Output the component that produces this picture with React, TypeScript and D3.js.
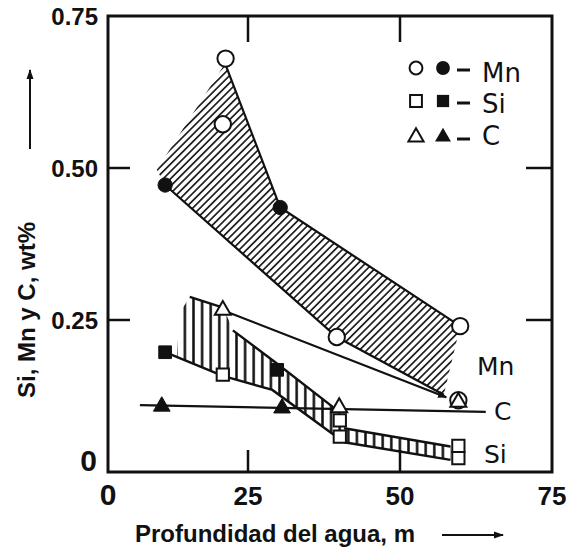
import React from 'react';
import * as d3 from 'd3';

// ---- data ----
const xTicks = [0, 25, 50, 75];
const xTickLabels = ['0', '25', '50', '75'];
const yTicks = [0, 0.25, 0.5, 0.75];
const yTickLabels = ['0', '0.25', '0.50', '0.75'];

// depth (m), wt%
const mnOpen = [[21, 0.68], [20.5, 0.572], [39.6, 0.222], [59.9, 0.24], [59.6, 0.118]];
const mnFilled = [[10.2, 0.472], [30.3, 0.435]];
const siOpen = [[20.5, 0.16], [40.1, 0.085], [40.1, 0.058], [59.6, 0.043], [59.6, 0.023]];
const siFilled = [[10.2, 0.197], [29.8, 0.168]];
const cOpen = [[20.5, 0.266], [40, 0.106], [59.6, 0.115]];
const cFilled = [[9.6, 0.108], [30.6, 0.105]];

const mnBand = [[8.7, 0.497], [20.9, 0.672], [30.3, 0.435], [59.9, 0.24], [57.2, 0.127], [39.6, 0.222], [10.2, 0.472]];
const mnEdgeLow = [[10.2, 0.472], [39.6, 0.222], [57.2, 0.127]];
const mnEdgeHigh = [[20.9, 0.672], [30.3, 0.435], [59.9, 0.24]];

const siBand = [[12.3, 0.19], [12.8, 0.262], [14.6, 0.288], [20, 0.272], [21, 0.262], [22.3, 0.233], [29.8, 0.178], [40.1, 0.098], [40.8, 0.072], [58.3, 0.042], [58.3, 0.02], [40.8, 0.049], [29, 0.135], [20.5, 0.158]];
const siEdgeTop = [[14.6, 0.288], [20, 0.272]];
const siEdgeDiag = [[22.3, 0.233], [29.8, 0.178], [40.1, 0.098]];
const siEdgeLow = [[10.2, 0.197], [20.5, 0.158], [29, 0.135], [40.8, 0.049]];
const siLadderTop = [[40.8, 0.072], [58.3, 0.042]];
const siLadderLow = [[40.8, 0.049], [58.3, 0.02]];

const cLine = [[5.7, 0.11], [64.1, 0.099]];
const mnArrow = [[20.5, 0.266], [57.6, 0.123]];

const legendRows = ['Mn', 'Si', 'C'];

export default function App() {
  const x = d3.scaleLinear().domain([0, 25, 75]).range([108, 248, 552]);
  const y = d3.scaleLinear().domain([0, 0.75]).range([472, 16]);
  const line = d3.line<number[]>().x(d => x(d[0])).y(d => y(d[1]));
  const poly = (pts: number[][]) => line(pts) + 'Z';

  const sym = (type: d3.SymbolType, size: number) => d3.symbol().type(type).size(size)() as string;
  const circleO = sym(d3.symbolCircle, 210);
  const circleF = sym(d3.symbolCircle, 160);
  const squareO = sym(d3.symbolSquare, 150);
  const squareF = sym(d3.symbolSquare, 160);
  const triO = sym(d3.symbolTriangle, 110);
  const triF = sym(d3.symbolTriangle, 120);

  const openStyle = { fill: '#fff', stroke: '#111', strokeWidth: 2 };
  const fillStyle = { fill: '#111', stroke: '#111', strokeWidth: 1 };

  const markers = (pts: number[][], d: string, st: any, key: string) =>
    pts.map((p, i) => (
      <path key={key + i} d={d} transform={`translate(${x(p[0])},${y(p[1])})`} {...st} />
    ));

  const boldFont = "'Liberation Sans', Arial, sans-serif";
  const plainFont = "'DejaVu Sans', sans-serif";

  const legendY = [68, 101, 137];
  const legendText = [82, 113, 145];
  const legendMarkO = [sym(d3.symbolCircle, 130), sym(d3.symbolSquare, 140), sym(d3.symbolTriangle, 100)];
  const legendMarkF = [sym(d3.symbolCircle, 150), sym(d3.symbolSquare, 150), sym(d3.symbolTriangle, 110)];

  return (
    <svg width={569} height={548} style={{ position: 'absolute', left: 0, top: 0, background: '#fff' }}>
      <defs>
        <pattern id="mnHatch" patternUnits="userSpaceOnUse" width={10} height={5.2} patternTransform="rotate(-45)">
          <line x1={0} y1={2.6} x2={10} y2={2.6} stroke="#222" strokeWidth={1.7} />
        </pattern>
        <pattern id="siHatch" patternUnits="userSpaceOnUse" width={8.6} height={10}>
          <line x1={4.3} y1={0} x2={4.3} y2={10} stroke="#111" strokeWidth={2.5} />
        </pattern>
        <marker id="arr" viewBox="0 0 10 10" refX={9} refY={5} markerWidth={9} markerHeight={9} markerUnits="userSpaceOnUse" orient="auto">
          <path d="M0,1 L10,5 L0,9 Z" fill="#111" />
        </marker>
        <marker id="arrBig" viewBox="0 0 10 10" refX={9} refY={5} markerWidth={12} markerHeight={10} markerUnits="userSpaceOnUse" orient="auto">
          <path d="M0,1.5 L10,5 L0,8.5 Z" fill="#111" />
        </marker>
      </defs>

      {/* bands */}
      <path d={poly(mnBand)} fill="url(#mnHatch)" />
      <path d={poly(siBand)} fill="url(#siHatch)" />
      {[mnEdgeLow, mnEdgeHigh].map((e, i) => (
        <path key={'me' + i} d={line(e) as string} fill="none" stroke="#111" strokeWidth={2.2} />
      ))}
      {[siEdgeTop, siEdgeDiag, siEdgeLow, siLadderTop, siLadderLow].map((e, i) => (
        <path key={'se' + i} d={line(e) as string} fill="none" stroke="#111" strokeWidth={2.4} />
      ))}

      {/* lines */}
      <path d={line(cLine) as string} fill="none" stroke="#111" strokeWidth={2.2} />
      <path d={line(mnArrow) as string} fill="none" stroke="#111" strokeWidth={2.2} markerEnd="url(#arr)" />

      {/* markers */}
      {markers(mnOpen, circleO, openStyle, 'mo')}
      {markers(mnFilled, circleF, fillStyle, 'mf')}
      {markers(siOpen, squareO, openStyle, 'so')}
      {markers(siFilled, squareF, fillStyle, 'sf')}
      {markers(cOpen, triO, openStyle, 'co')}
      {markers(cFilled, triF, fillStyle, 'cf')}

      {/* series labels */}
      <text x={477} y={375} fontFamily={plainFont} fontSize={25} fill="#111">Mn</text>
      <text x={494} y={420} fontFamily={plainFont} fontSize={25} fill="#111">C</text>
      <text x={484} y={463} fontFamily={plainFont} fontSize={25} fill="#111">Si</text>

      {/* legend */}
      {legendRows.map((name, i) => (
        <g key={'lg' + i}>
          <path d={legendMarkO[i]} transform={`translate(416,${legendY[i]})`} fill="#fff" stroke="#111" strokeWidth={2} />
          <path d={legendMarkF[i]} transform={`translate(443,${legendY[i]})`} fill="#111" />
          <line x1={457} x2={470} y1={legendY[i] + 2} y2={legendY[i] + 2} stroke="#111" strokeWidth={3} />
          <text x={482} y={legendText[i]} fontFamily={plainFont} fontSize={26} fill="#111">{name}</text>
        </g>
      ))}

      {/* frame */}
      <rect x={x(0)} y={y(0.75)} width={x(75) - x(0)} height={y(0) - y(0.75)} fill="none" stroke="#111" strokeWidth={3} />
      {[25, 50].map(t => (
        <g key={'xt' + t}>
          <line x1={x(t)} x2={x(t)} y1={y(0)} y2={y(0) - 22} stroke="#111" strokeWidth={2.5} />
          <line x1={x(t)} x2={x(t)} y1={y(0.75)} y2={y(0.75) + 26} stroke="#111" strokeWidth={2.5} />
        </g>
      ))}
      {[0.25, 0.5].map(t => (
        <g key={'yt' + t}>
          <line x1={x(0)} x2={x(0) + 22} y1={y(t)} y2={y(t)} stroke="#111" strokeWidth={2.5} />
          <line x1={x(75)} x2={x(75) - 26} y1={y(t)} y2={y(t)} stroke="#111" strokeWidth={2.5} />
        </g>
      ))}

      {/* tick labels */}
      {xTicks.map((t, i) => (
        <text key={'xl' + t} x={x(t)} y={505} textAnchor="middle" fontFamily={boldFont} fontWeight="bold" fontSize={t === 0 ? 30 : 26} fill="#111">
          {xTickLabels[i]}
        </text>
      ))}
      {yTicks.map((t, i) => (
        <text key={'yl' + t} x={t === 0 ? 97 : 98} y={t === 0 ? y(t) - 1 : y(t) + 8.5} textAnchor="end" fontFamily={boldFont} fontWeight="bold" fontSize={t === 0 ? 30 : 24} fill="#111">
          {yTickLabels[i]}
        </text>
      ))}

      {/* axis titles */}
      <text x={135} y={542} fontFamily={boldFont} fontWeight="bold" fontSize={24} fill="#111">Profundidad del agua, m</text>
      <line x1={442} x2={503} y1={535} y2={535} stroke="#111" strokeWidth={2} markerEnd="url(#arrBig)" />
      <text transform="translate(35,310) rotate(-90)" textAnchor="middle" fontFamily={boldFont} fontWeight="bold" fontSize={24} fill="#111">
        Si, Mn y C, wt%
      </text>
      <line x1={30} x2={30} y1={149} y2={70} stroke="#111" strokeWidth={2} markerEnd="url(#arrBig)" />
    </svg>
  );
}
